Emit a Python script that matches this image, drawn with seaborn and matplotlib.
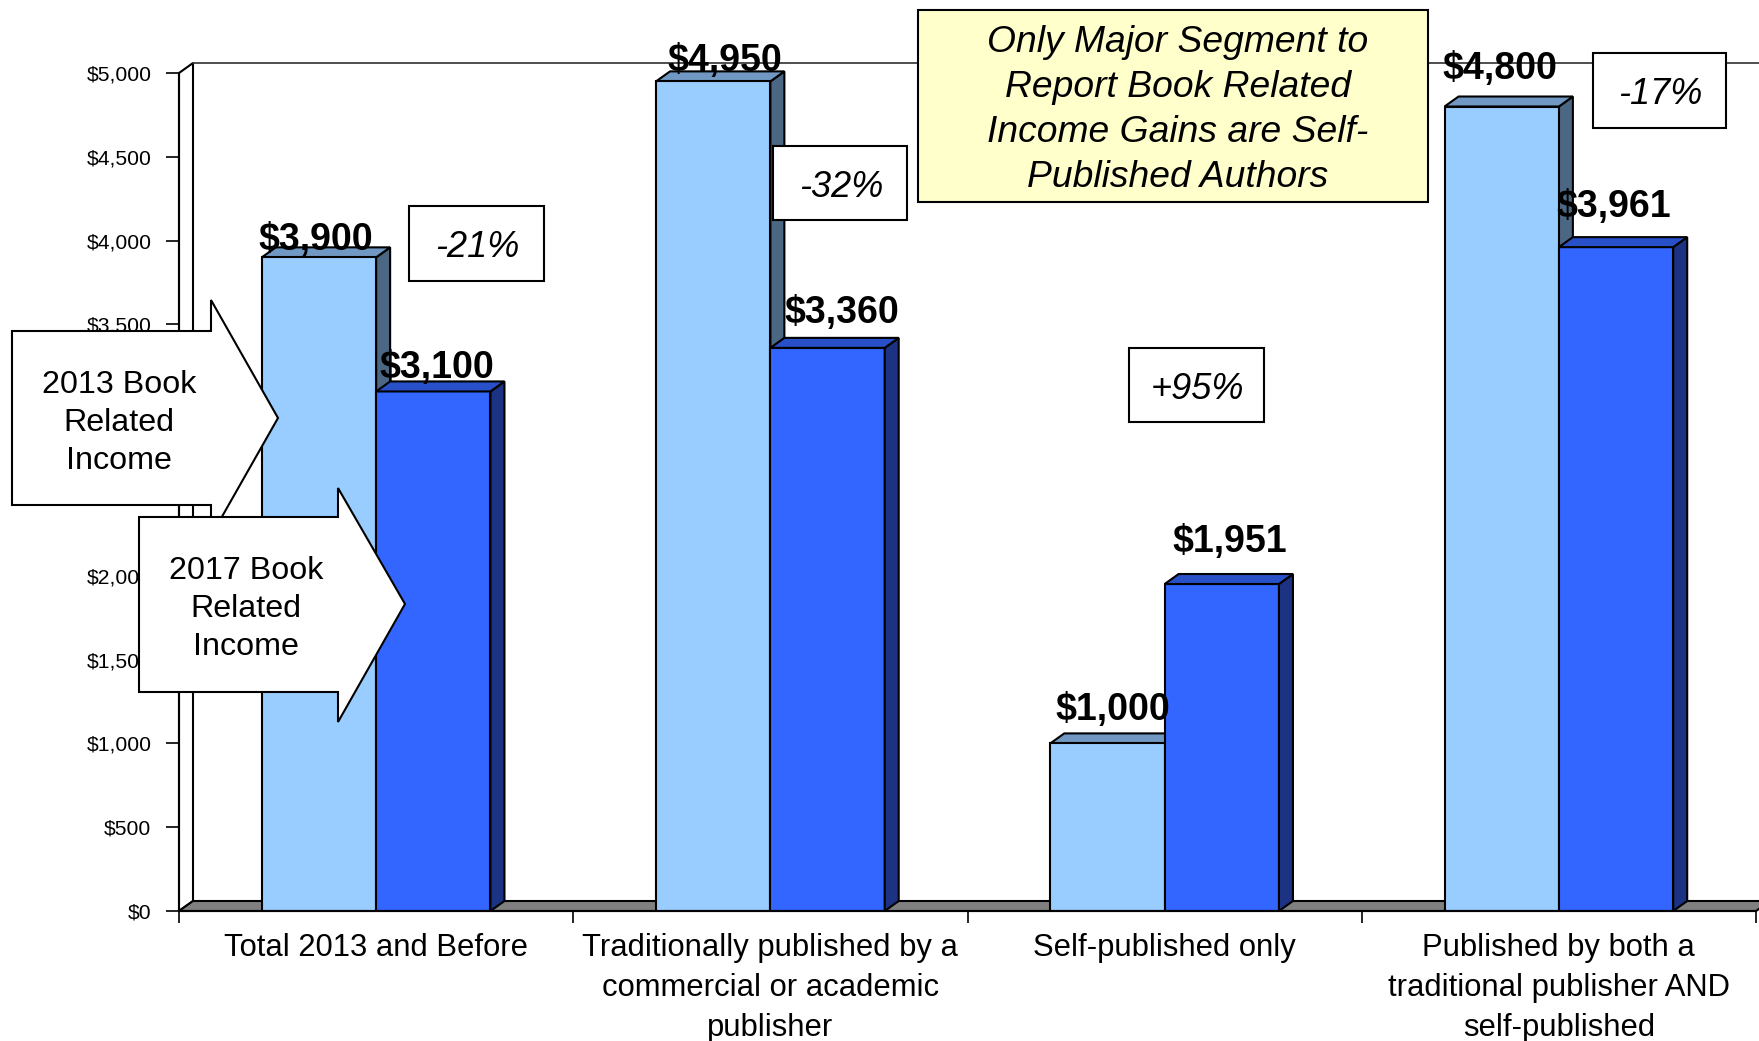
import numpy as np
import pandas as pd
import matplotlib
matplotlib.use("Agg")
import matplotlib.pyplot as plt
import seaborn as sns
from matplotlib.patches import Polygon, Rectangle

# ---------------- data ----------------
categories = [
    "Total 2013 and Before",
    "Traditionally published by a\ncommercial or academic\npublisher",
    "Self-published only",
    "Published by both a\ntraditional publisher AND\nself-published",
]
series_names = ["2013", "2017"]
income_2013 = [3900, 4950, 1000, 4800]
income_2017 = [3100, 3360, 1951, 3961]
pct_labels = ["-21%", "-32%", "+95%", "-17%"]
y_ticks = [0, 500, 1000, 1500, 2000, 2500, 3000, 3500, 4000, 4500, 5000]
note_text = "Only Major Segment to\nReport Book Related\nIncome Gains are Self-\nPublished Authors"
arrow_texts = ["2013 Book\nRelated\nIncome", "2017 Book\nRelated\nIncome"]

# ---------------- layout / style ----------------
W, H = 1759, 1041
sns.set_style("white")
plt.rcParams["font.family"] = ["Liberation Sans", "DejaVu Sans"]
plt.rcParams["text.color"] = "black"
plt.rcParams["xtick.color"] = "black"
plt.rcParams["ytick.color"] = "black"
plt.rcParams["axes.labelcolor"] = "black"

fig = plt.figure(figsize=(W / 100, H / 100), dpi=100)


def fx(x):
    return x / W


def fy(y):
    return 1 - y / H


AX_L, AX_R, AX_B, AX_T = 179, 1756, 911, 73
ax = fig.add_axes([fx(AX_L), fy(AX_B), (AX_R - AX_L) / W, (AX_B - AX_T) / H])

df = pd.DataFrame({
    "category": categories * 2,
    "year": [series_names[0]] * len(categories) + [series_names[1]] * len(categories),
    "income": income_2013 + income_2017,
})
palette = {"2013": "#99CCFF", "2017": "#3366FF"}
sns.barplot(data=df, x="category", y="income", hue="year", order=categories,
            hue_order=series_names, palette=palette, width=0.58, gap=0,
            edgecolor="black", linewidth=1.5, saturation=1, legend=False,
            errorbar=None, ax=ax)

YMAX = 5000
ax.set_xlim(-0.5, len(categories) - 0.5)
ax.set_ylim(0, YMAX)

# depth of the pseudo-3D effect (pixels -> data units)
DEPTH_X_PX, DEPTH_Y_PX = 14, 10
DX = DEPTH_X_PX * len(categories) / (AX_R - AX_L)
DY = DEPTH_Y_PX * YMAX / (AX_B - AX_T)

x_left, x_right = -0.5, len(categories) - 0.5
# floor
ax.add_patch(Polygon([(x_left, 0), (x_left + DX, DY), (x_right + DX, DY), (x_right, 0)],
                     closed=True, fc="#808080", ec="black", lw=1.5, zorder=1.2, clip_on=False))
# left side wall
ax.add_patch(Polygon([(x_left, 0), (x_left, YMAX), (x_left + DX, YMAX + DY), (x_left + DX, DY)],
                     closed=True, fc="white", ec="black", lw=1.5, zorder=1.1, clip_on=False))
# back wall top edge
ax.plot([x_left + DX, x_right + DX], [YMAX + DY, YMAX + DY], color="#303030", lw=1.2,
        clip_on=False, zorder=1.1)

face_cols = [("#7098C2", "#4C6783"), ("#2850C8", "#1C3384")]
label_offsets = [
    [(-3, 7), (12, 10), (5, 23), (-2, 28)],
    [(4, 13), (14, 25), (8, 32), (-2, 30)],
]
for i, cont in enumerate(ax.containers):
    top_c, side_c = face_cols[i]
    zf = 1.6 if i == 0 else 2.1
    for rect, (odx, ody) in zip(cont, label_offsets[i]):
        rect.set_zorder(2)
        x0, w, h = rect.get_x(), rect.get_width(), rect.get_height()
        ax.add_patch(Polygon([(x0 + w, 0), (x0 + w + DX, DY), (x0 + w + DX, h + DY), (x0 + w, h)],
                             closed=True, fc=side_c, ec="black", lw=1.5, zorder=zf, clip_on=False))
        ax.add_patch(Polygon([(x0, h), (x0 + DX, h + DY), (x0 + w + DX, h + DY), (x0 + w, h)],
                             closed=True, fc=top_c, ec="black", lw=1.5, zorder=zf, clip_on=False))
        ax.annotate(f"${h:,.0f}", (x0 + w / 2, h), xytext=(odx, ody),
                    textcoords="offset pixels", ha="center", va="baseline",
                    fontsize=27, fontweight="bold", color="black", zorder=5,
                    annotation_clip=False)

# spines
for s in ["top", "right"]:
    ax.spines[s].set_visible(False)
for s in ["left", "bottom"]:
    ax.spines[s].set_visible(True)
    ax.spines[s].set_color("black")
    ax.spines[s].set_linewidth(1.5)
    ax.spines[s].set_zorder(2.5)

ax.set_yticks(y_ticks)
ax.set_yticklabels([f"${v:,}" for v in y_ticks], fontsize=15.2, color="black")
ax.tick_params(axis="y", left=True, length=9.4, width=1.2, direction="out", pad=10.5,
               color="black")
ax.set_xticks(range(len(categories)))
ax.set_xticklabels(categories, fontsize=22.3, linespacing=1.44, color="black")
ax.tick_params(axis="x", which="major", length=0, pad=15.5)
ax.set_xticks(np.arange(-0.5, len(categories), 1.0), minor=True)
ax.tick_params(axis="x", which="minor", bottom=True, length=8.6, width=1.2,
               direction="out", color="black")
ax.set_xlabel("")
ax.set_ylabel("")

# ---------------- percent boxes ----------------
pct_boxes = [(409, 206, 544, 281), (773, 146, 907, 220), (1129, 348, 1264, 422), (1593, 53, 1726, 128)]
for (x0, y0, x1, y1), txt in zip(pct_boxes, pct_labels):
    fig.add_artist(Rectangle((fx(x0), fy(y1)), (x1 - x0) / W, (y1 - y0) / H,
                             transform=fig.transFigure, fc="white", ec="black", lw=1.5, zorder=3))
    fig.text(fx((x0 + x1) / 2 + 1), fy((y0 + y1) / 2 + 14), txt, ha="center", va="baseline",
             fontsize=26, style="italic", color="black", zorder=3.5)

# ---------------- yellow note ----------------
fig.add_artist(Rectangle((fx(918), fy(202)), (1428 - 918) / W, (202 - 10) / H,
                         transform=fig.transFigure, fc="#FFFFCC", ec="black", lw=1.5, zorder=3))
fig.text(fx(1178), fy(110), note_text, ha="center", va="center", fontsize=26.8,
         style="italic", linespacing=1.37, color="black", zorder=3.5)

# ---------------- arrow callouts ----------------
arrow_shapes = [
    [(12, 331), (211, 331), (211, 300), (278, 418), (211, 536), (211, 505), (12, 505)],
    [(139, 517), (338, 517), (338, 488), (405, 604), (338, 722), (338, 692), (139, 692)],
]
arrow_text_pos = [(119, 423), (246, 609)]
for k, (pts, (tx, ty), txt) in enumerate(zip(arrow_shapes, arrow_text_pos, arrow_texts)):
    fig.add_artist(Polygon([(fx(x), fy(y)) for x, y in pts], closed=True,
                           transform=fig.transFigure, fc="white", ec="black", lw=1.5,
                           zorder=5 + 2 * k))
    fig.text(fx(tx), fy(ty), txt, ha="center", va="center", fontsize=23.2,
             linespacing=1.36, color="black", zorder=5.5 + 2 * k)

fig.savefig("out.png", dpi=100)
